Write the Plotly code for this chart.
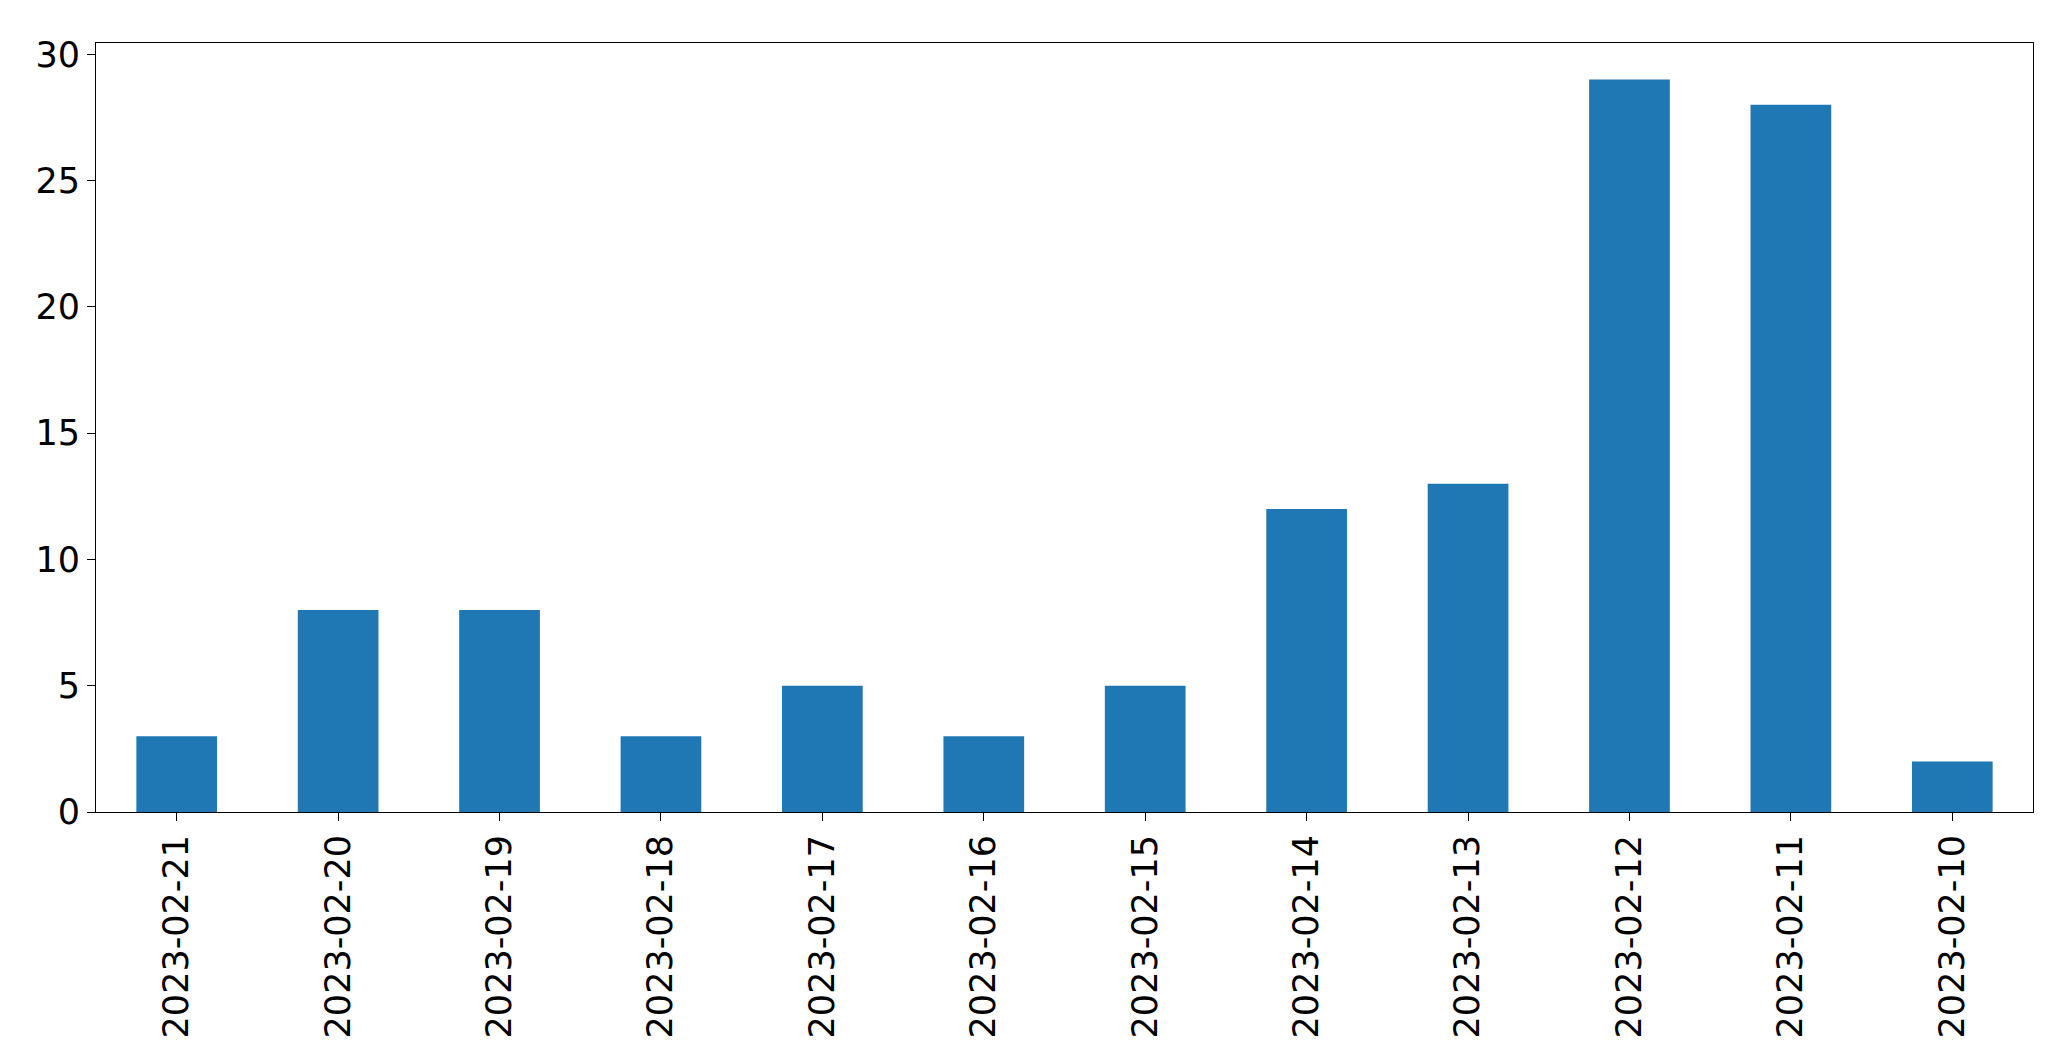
import plotly.graph_objects as go

dates = ["2023-02-21","2023-02-20","2023-02-19","2023-02-18","2023-02-17","2023-02-16",
         "2023-02-15","2023-02-14","2023-02-13","2023-02-12","2023-02-11","2023-02-10"]
counts = [3, 8, 8, 3, 5, 3, 5, 12, 13, 29, 28, 2]

fig = go.Figure(go.Bar(x=list(range(len(dates))), y=counts, width=0.5,
                       marker=dict(color="#1f77b4", line=dict(width=0))))
fig.update_layout(
    width=2071, height=1064, plot_bgcolor="white", paper_bgcolor="white",
    margin=dict(l=88, r=46, t=35, b=260), showlegend=False,
    font=dict(family="DejaVu Sans", size=35, color="black"),
)
fig.update_xaxes(range=[-0.5, 11.5], tickmode="array", tickvals=list(range(len(dates))),
                 ticktext=dates, tickangle=-90, ticks="outside", ticklen=8, tickcolor="black",
                 showline=True, linecolor="black", mirror=True, showgrid=False, zeroline=False)
fig.update_yaxes(range=[0, 30.45], tickvals=[0,5,10,15,20,25,30], ticks="outside", ticklen=8,
                 tickcolor="black", showline=True, linecolor="black", mirror=True,
                 showgrid=False, zeroline=False)
fig.write_html("out.html")
